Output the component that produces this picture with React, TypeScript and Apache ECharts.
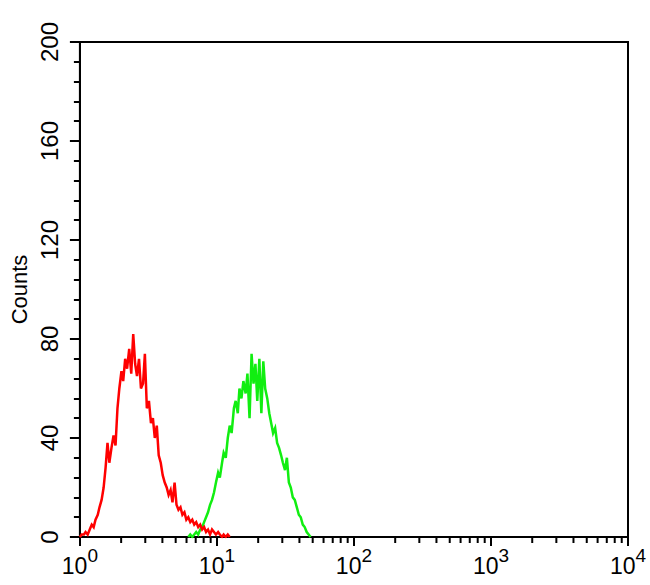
import React, { useEffect, useRef } from 'react';
import * as echarts from 'echarts';

// Y axis ticks (Counts)
const yTicks = [0, 40, 80, 120, 160, 200];
// X axis decade exponents shown as 10^n
const xExponents = ['0', '1', '2', '3', '4'];
// minor (non-decade) x ticks
const xMinorTicks = [
  2, 3, 4, 5, 6, 7, 8, 9,
  20, 30, 40, 50, 60, 70, 80, 90,
  200, 300, 400, 500, 600, 700, 800, 900,
  2000, 3000, 4000, 5000, 6000, 7000, 8000, 9000,
];

// Red histogram (control)
const redX = [
  1.00, 1.03, 1.07, 1.10, 1.14, 1.18, 1.22, 1.26, 1.30, 1.35,
  1.39, 1.44, 1.49, 1.54, 1.59, 1.64, 1.70, 1.76, 1.82, 1.88,
  1.94, 2.01, 2.07, 2.14, 2.21, 2.29, 2.37, 2.45, 2.53, 2.61,
  2.70, 2.79, 2.89, 2.98, 3.08, 3.19, 3.30, 3.41, 3.52, 3.64,
  3.76, 3.89, 4.02, 4.16, 4.30, 4.44, 4.59, 4.74, 4.91, 5.07,
  5.24, 5.42, 5.60, 5.79, 5.98, 6.18, 6.39, 6.61, 6.83, 7.06,
  7.30, 7.55, 7.80, 8.06, 8.33, 8.61, 8.91, 9.21, 9.52, 9.84,
  10.2, 10.5, 10.9, 11.2, 11.6, 12.0, 12.4,
];
const redY = [
  0, 1, 1, 2, 1, 3, 5, 4, 7, 9,
  12, 15, 20, 28, 38, 30, 36, 41, 37, 52,
  60, 67, 63, 72, 68, 76, 66, 82, 70, 65,
  72, 60, 62, 74, 52, 55, 46, 48, 40, 45,
  33, 30, 25, 22, 20, 17, 19, 14, 22, 13,
  11, 12, 9, 10, 7, 8, 6, 7, 5, 6,
  4, 5, 3, 4, 2, 3, 1, 3, 2, 1,
  2, 1, 0, 1, 0, 1, 0,
];

// Green histogram (sample)
const greenX = [
  6.18, 6.39, 6.61, 6.83, 7.06, 7.30, 7.55, 7.80, 8.06, 8.33,
  8.61, 8.91, 9.21, 9.52, 9.84, 10.2, 10.5, 10.9, 11.2, 11.6,
  12.0, 12.4, 12.8, 13.3, 13.7, 14.2, 14.6, 15.1, 15.6, 16.2,
  16.7, 17.3, 17.9, 18.5, 19.1, 19.7, 20.4, 21.1, 21.8, 22.5,
  23.3, 24.1, 24.9, 25.7, 26.6, 27.5, 28.4, 29.4, 30.3, 31.4,
  32.4, 33.5, 34.6, 35.8, 37.0, 38.3, 39.6, 40.9, 42.3, 43.7,
  45.2, 46.7, 48.3,
];
const greenY = [
  0, 1, 0, 1, 2, 1, 3, 4, 6, 8,
  10, 13, 15, 18, 22, 26, 24, 30, 34, 32,
  40, 45, 42, 52, 55, 50, 60, 56, 63, 58,
  66, 48, 74, 62, 70, 55, 72, 50, 71, 60,
  56, 50, 46, 42, 44, 38, 36, 33, 30, 27,
  32, 22, 20, 16, 15, 12, 9, 8, 5, 4,
  2, 1, 0,
];

const FONT = '"Liberation Sans", Arial, sans-serif';

export default function App() {
  const ref = useRef<HTMLDivElement>(null);

  useEffect(() => {
    if (!ref.current) return;
    const chart = echarts.init(ref.current, null, { renderer: 'svg' });
    const redData = redX.map((x, i) => [x, redY[i]]);
    const greenData = greenX.map((x, i) => [x, greenY[i]]);

    chart.setOption({
      animation: false,
      backgroundColor: '#ffffff',
      grid: {
        left: 72,
        right: 22,
        top: 42,
        bottom: 48,
        show: true,
        borderColor: '#000',
        borderWidth: 2,
        backgroundColor: 'transparent',
      },
      xAxis: {
        type: 'log',
        logBase: 10,
        min: 1,
        max: 10000,
        splitLine: { show: false },
        axisLine: { show: true, lineStyle: { color: '#000', width: 2 } },
        axisTick: { show: true, length: 9, lineStyle: { color: '#000', width: 2 } },
        minorTick: { show: false },
        axisLabel: {
          margin: 9,
          color: '#000',
          fontFamily: FONT,
          formatter: (_v: number, idx: number) => `{b|10}{s|${xExponents[idx]}}`,
          rich: {
            b: { fontSize: 23, fontFamily: FONT, color: '#000', verticalAlign: 'bottom', lineHeight: 31 },
            s: { fontSize: 19, fontFamily: FONT, color: '#000', verticalAlign: 'top', lineHeight: 31 },
          },
        },
      },
      yAxis: {
        type: 'value',
        min: 0,
        max: 200,
        interval: 40,
        name: 'Counts',
        nameLocation: 'middle',
        nameGap: 49,
        nameTextStyle: { fontSize: 22, fontFamily: FONT, color: '#000' },
        splitLine: { show: false },
        axisLine: { show: true, lineStyle: { color: '#000', width: 2 } },
        axisTick: { show: true, length: 10, lineStyle: { color: '#000', width: 2 } },
        minorTick: { show: true, splitNumber: 5, length: 6, lineStyle: { color: '#000', width: 2 } },
        axisLabel: {
          rotate: 90,
          margin: 18,
          fontSize: 24,
          fontFamily: FONT,
          color: '#000',
          formatter: (v: number) => (yTicks.includes(v) ? String(v) : ''),
        },
      },
      series: [
        {
          type: 'line',
          data: redData,
          symbol: 'none',
          lineStyle: { color: '#ff0000', width: 2.5, join: 'miter' },
          z: 3,
        },
        {
          type: 'line',
          data: greenData,
          symbol: 'none',
          lineStyle: { color: '#11ee11', width: 2.5, join: 'miter' },
          z: 2,
        },
        {
          type: 'custom',
          clip: false,
          silent: true,
          data: xMinorTicks.map((v) => [v, 0]),
          encode: { x: 0, y: 1 },
          renderItem: (_params: any, api: any) => {
            const p = api.coord([api.value(0), 0]);
            return {
              type: 'line',
              shape: { x1: p[0], y1: p[1], x2: p[0], y2: p[1] + 6 },
              style: { stroke: '#000', lineWidth: 2 },
            };
          },
          z: 5,
        },
      ],
    });

    return () => chart.dispose();
  }, []);

  return (
    <div
      ref={ref}
      style={{ position: 'fixed', left: 0, top: 0, width: 650, height: 585, background: '#fff' }}
    />
  );
}
